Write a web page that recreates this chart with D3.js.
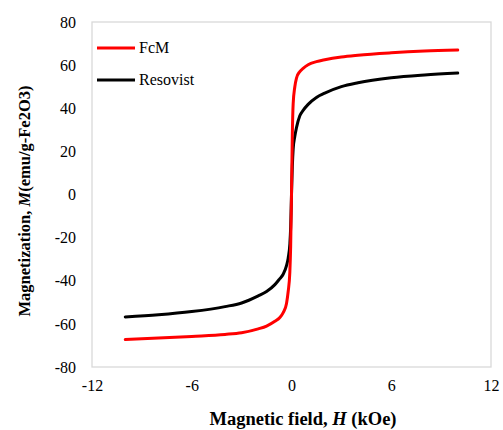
<!DOCTYPE html>
<html><head><meta charset="utf-8">
<script src="https://cdn.jsdelivr.net/npm/d3@7"></script>
<style>body{margin:0;background:#fff}svg{display:block}</style>
</head><body><svg id="c" width="503" height="430"></svg>
<script>
const seriesNames = ["FcM", "Resovist"];
const seriesColors = ["#ff0000", "#000000"];
const fieldH = [-10,-8,-6,-4,-3,-2,-1.5,-1,-0.7,-0.5,-0.3,-0.2,-0.1,-0.05,0,0.05,0.1,0.2,0.3,0.5,0.7,1,1.5,2,3,4,6,8,10];
const fcmM = [-67.3,-66.6,-65.8,-64.9,-64.1,-62.3,-61,-58.8,-57,-54.8,-50.5,-45,-36,-24,0,28,42,50,54,57,58.5,60.2,61.6,62.5,63.8,64.6,65.7,66.5,67.0];
const resoM = [-56.8,-55.8,-54.3,-52,-50.3,-47,-45,-41.8,-39,-37,-33,-29.5,-23,-15,0,13,21,27,31,36.5,39,41.8,45,47,50,51.8,54.1,55.4,56.3];
const xTicks = [-12,-6,0,6,12];
const yTicks = [-80,-60,-40,-20,0,20,40,60,80];

const FONT = "'Liberation Serif', 'Times New Roman', Times, serif";
const svg = d3.select("#c").style("font-family", FONT);
const L=92, R=491, T=22, B=367;
const x = d3.scaleLinear().domain([-12,12]).range([L,R]);
const y = d3.scaleLinear().domain([-80,80]).range([B,T]);

svg.append("rect").attr("x",L).attr("y",T).attr("width",R-L).attr("height",B-T)
  .attr("fill","none").attr("stroke","#d9d9d9").attr("stroke-width",1.3);

const yAxis = svg.append("g").attr("transform",`translate(${L},0)`)
  .call(d3.axisLeft(y).tickValues(yTicks).tickSize(0).tickPadding(16).tickFormat(d=>String(d)));
yAxis.attr("font-family",null).attr("font-size",null);
yAxis.select(".domain").remove();
yAxis.selectAll("text").style("font-family",FONT).style("font-size","16px").attr("fill","#000");

const xAxis = svg.append("g").attr("transform",`translate(0,${B})`)
  .call(d3.axisBottom(x).tickValues(xTicks).tickSize(0).tickPadding(13).tickFormat(d=>String(d)));
xAxis.attr("font-family",null).attr("font-size",null);
xAxis.select(".domain").remove();
xAxis.selectAll("text").style("font-family",FONT).style("font-size","16px").attr("fill","#000");

const data = [fcmM, resoM];
const line = d3.line().x((d,i)=>x(fieldH[i])).y(d=>y(d)).curve(d3.curveMonotoneX);
[1,0].forEach(k=>{
  svg.append("path").datum(data[k]).attr("d",line).attr("fill","none")
    .attr("stroke",seriesColors[k]).attr("stroke-width",3).attr("stroke-linecap","round");
});

// legend
seriesNames.forEach((n,i)=>{
  const ly = 48 + i*32;
  svg.append("line").attr("x1",97).attr("x2",135).attr("y1",ly).attr("y2",ly)
    .attr("stroke",seriesColors[i]).attr("stroke-width",3);
  svg.append("text").attr("x",139).attr("y",ly+5).style("font-size","16px").style("font-family",FONT).text(n);
});

// axis titles
const xt = svg.append("text").attr("x",303).attr("y",425).attr("text-anchor","middle")
  .style("font-size","18.5px").style("font-family",FONT).attr("font-weight","bold");
xt.append("tspan").text("Magnetic field, ");
xt.append("tspan").attr("font-style","italic").text("H");
xt.append("tspan").text(" (kOe)");

const yt = svg.append("text").attr("transform","translate(30,201) rotate(-90)").attr("text-anchor","middle")
  .style("font-size","16.5px").style("font-family",FONT).attr("font-weight","bold");
yt.append("tspan").text("Magnetization, ");
yt.append("tspan").attr("font-style","italic").text("M");
yt.append("tspan").text("(emu/g-Fe2O3)");
</script></body></html>
